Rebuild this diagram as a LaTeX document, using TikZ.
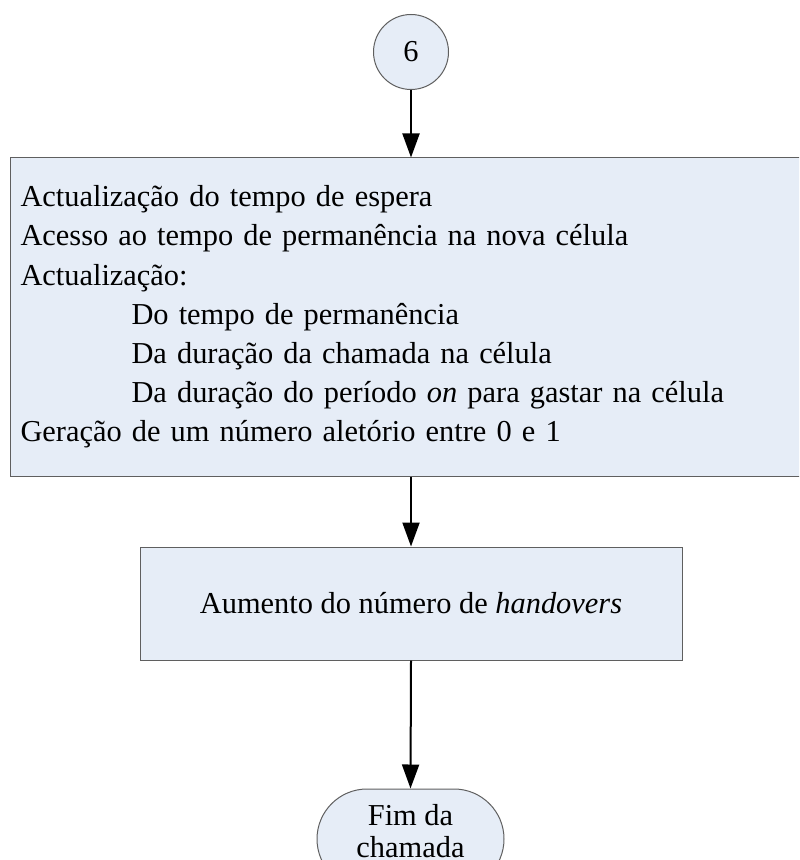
\documentclass[tikz,border=0pt]{standalone}
\usepackage{fontspec}
\setmainfont{Liberation Serif}
\usetikzlibrary{arrows.meta,shapes.misc}
\definecolor{boxfill}{HTML}{E6EDF7}
\definecolor{boxline}{HTML}{5F5F5F}
\begin{document}
\begin{tikzpicture}[x=0.5pt,y=-0.5pt,
  box/.style={draw=boxline, fill=boxfill, line width=0.5pt, inner sep=0pt,
    font=\fontsize{15.2}{19.6}\selectfont},
  flow/.style={-{Triangle[length=12pt,width=8.5pt]}, line width=1pt}]
\useasboundingbox (0,0) rectangle (799,860);
\clip (0,0) rectangle (799,860);

\node[box, circle, minimum size=37.5pt] (six) at (411,52) {6};
\node[box, anchor=west, minimum height=159pt, inner xsep=5pt, text width=387.5pt, align=left] (upd) at (10,317)
  {Actualização do tempo de espera\\
   Acesso ao tempo de permanência na nova célula\\
   Actualização:\\
   \hspace*{55.5pt}Do tempo de permanência\\
   \hspace*{55.5pt}Da duração da chamada na célula\\
   \hspace*{55.5pt}Da duração do período \textit{on} para gastar na célula\\
   Geração de um número aletório entre 0 e 1};
\node[box, minimum width=271pt, minimum height=56.5pt] (hand) at (411,603.5) {Aumento do número de \textit{handovers}};
\node[box, rounded rectangle, minimum width=93.5pt, minimum height=50pt, align=center,
  text depth=8pt, font=\fontsize{15.2}{16}\selectfont] (fim) at (410.5,839) {Fim da\\chamada};

\draw[flow] (six.south) -- (six.south |- upd.north);
\draw[flow] (six.south |- upd.south) -- (hand.north);
\draw[flow] (hand.south) -- (fim.north);
\end{tikzpicture}
\end{document}
